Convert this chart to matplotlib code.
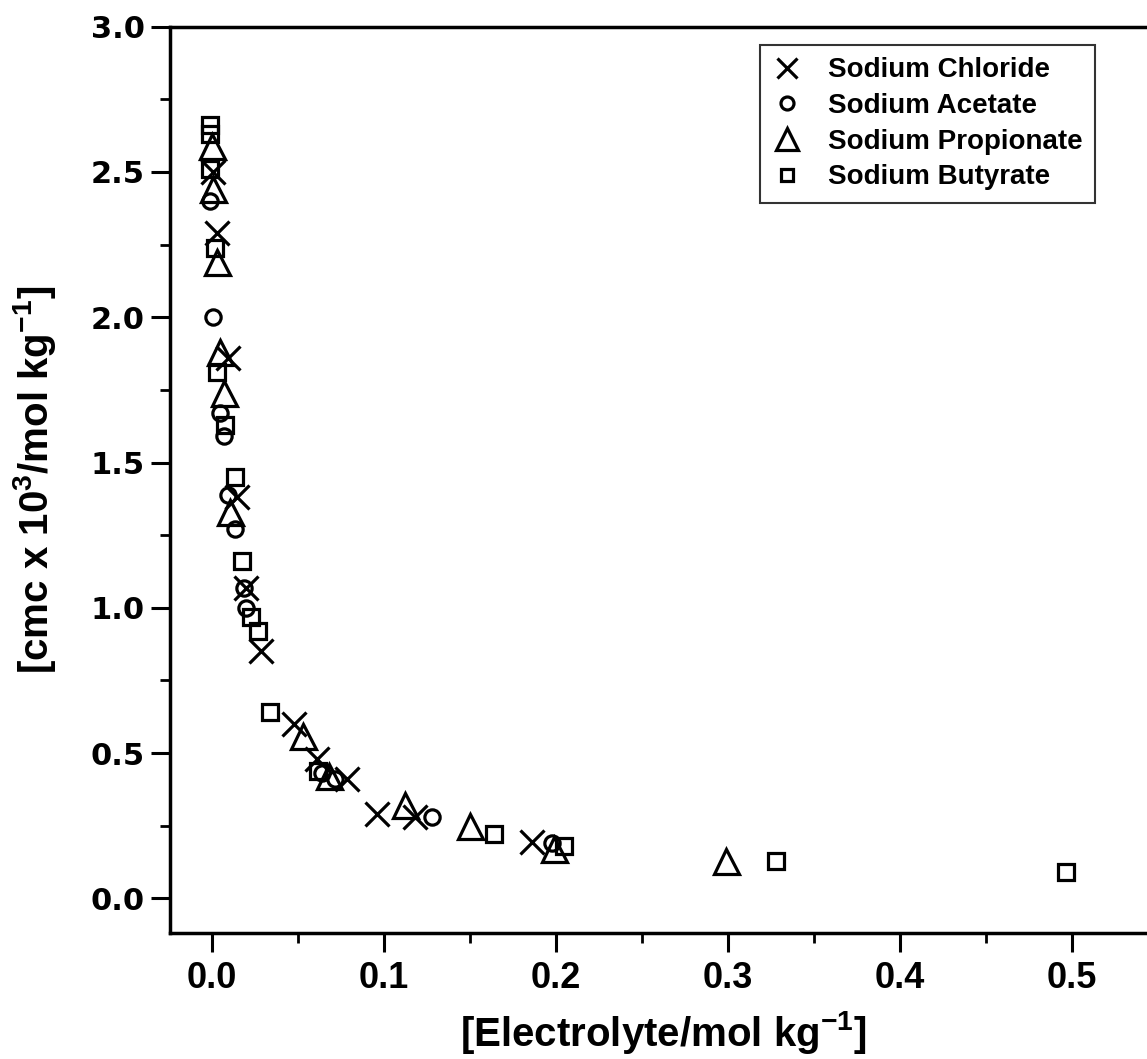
import matplotlib
matplotlib.use("Agg")
import matplotlib.pyplot as plt
from matplotlib.ticker import MultipleLocator

plt.rcParams["font.family"] = ["Liberation Sans", "DejaVu Sans"]
plt.rcParams["font.weight"] = "bold"
plt.rcParams["mathtext.fontset"] = "custom"
plt.rcParams["mathtext.rm"] = "Liberation Sans:bold"
plt.rcParams["mathtext.bf"] = "Liberation Sans:bold"
plt.rcParams["mathtext.default"] = "rm"

# electrolyte concentration (mol/kg) and cmc x 10^3 (mol/kg)
chloride_x = [0.001, 0.003, 0.0097, 0.0146, 0.0198, 0.029, 0.048, 0.061, 0.0786, 0.096, 0.1185, 0.1864]
chloride_y = [2.50, 2.29, 1.86, 1.38, 1.07, 0.85, 0.60, 0.48, 0.41, 0.29, 0.28, 0.195]

acetate_x = [-0.001, 0.001, 0.005, 0.007, 0.0097, 0.0136, 0.019, 0.020, 0.064, 0.072, 0.128, 0.198]
acetate_y = [2.40, 2.00, 1.67, 1.59, 1.39, 1.27, 1.07, 1.00, 0.43, 0.41, 0.28, 0.19]

propionate_x = [0.000, 0.001, 0.003, 0.005, 0.007, 0.0107, 0.053, 0.068, 0.1126, 0.1505, 0.199, 0.299]
propionate_y = [2.59, 2.44, 2.19, 1.88, 1.74, 1.33, 0.56, 0.42, 0.32, 0.25, 0.17, 0.13]

butyrate_x = [-0.001, -0.001, -0.001, 0.002, 0.003, 0.008, 0.0136, 0.0175, 0.023, 0.0268,
              0.034, 0.0617, 0.164, 0.2048, 0.328, 0.497]
butyrate_y = [2.66, 2.63, 2.51, 2.24, 1.81, 1.63, 1.45, 1.16, 0.97, 0.92,
              0.64, 0.44, 0.22, 0.18, 0.13, 0.09]

fig = plt.figure(figsize=(11.47, 10.59), dpi=100)
ax = fig.add_axes([0.1482, 0.1187, 0.861, 0.8561])

style = dict(linestyle="none", color="black", markerfacecolor="none", markeredgewidth=2.3)
ax.plot(chloride_x, chloride_y, marker="x", markersize=17, label="Sodium Chloride", **style)
ax.plot(acetate_x, acetate_y, marker="o", markersize=11, label="Sodium Acetate", **style)
ax.plot(propionate_x, propionate_y, marker="^", markersize=18, label="Sodium Propionate", **style)
ax.plot(butyrate_x, butyrate_y, marker="s", markersize=11, label="Sodium Butyrate", **style)

ax.set_xlim(-0.0242, 0.55)
ax.set_ylim(-0.12, 3.0)
ax.xaxis.set_major_locator(MultipleLocator(0.1))
ax.xaxis.set_minor_locator(MultipleLocator(0.05))
ax.yaxis.set_major_locator(MultipleLocator(0.5))
ax.yaxis.set_minor_locator(MultipleLocator(0.25))
ax.tick_params(which="major", direction="out", length=14, width=2.2)
ax.tick_params(which="minor", direction="out", length=7, width=2.0)
ax.tick_params(axis="x", labelsize=26, pad=6)
ax.tick_params(axis="y", labelsize=22, pad=4)
ax.tick_params(top=False, right=False)
for lab in ax.get_xticklabels():
    lab.set_fontweight("bold")
for lab in ax.get_yticklabels():
    lab.set_fontfamily(["DejaVu Sans"])
    lab.set_fontweight("bold")

for side in ("left", "bottom", "top"):
    ax.spines[side].set_linewidth(2.5)
ax.spines["right"].set_visible(False)

ax.set_xlabel("[Electrolyte/mol kg$^{-1}$]", fontsize=29, fontweight="bold", labelpad=9)
ax.set_ylabel("[cmc x 10$^{3}$/mol kg$^{-1}$]", fontsize=29, fontweight="bold", labelpad=24)

leg = ax.legend(loc="upper right", bbox_to_anchor=(0.9365, 0.98), borderaxespad=0, fontsize=20,
                frameon=True, fancybox=False, edgecolor="black", borderpad=0.45,
                handletextpad=0.9, labelspacing=0.35, handlelength=1.1, markerscale=0.85)
leg.get_frame().set_linewidth(1.5)
for t in leg.get_texts():
    t.set_fontweight("bold")

fig.savefig("out.png", dpi=100)
